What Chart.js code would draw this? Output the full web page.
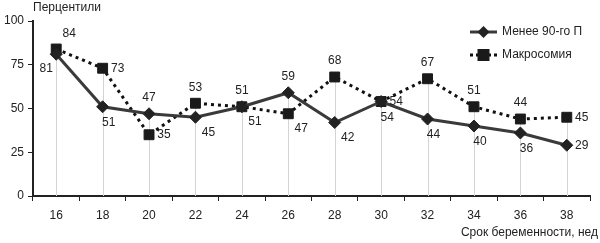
<!DOCTYPE html>
<html>
<head>
<meta charset="utf-8">
<script src="https://cdn.jsdelivr.net/npm/chart.js@4"></script>
<style>
  html, body { margin: 0; padding: 0; background: #fff; }
  #wrap { position: relative; width: 600px; height: 243px; }
</style>
</head>
<body>
<div id="wrap"><canvas id="chart" width="600" height="243"></canvas></div>
<script>
// data
const weeks = ['16', '18', '20', '22', '24', '26', '28', '30', '32', '34', '36', '38'];
const under90 = [81, 51, 47, 45, 51, 59, 42, 54, 44, 40, 36, 29];
const macrosomia = [84, 73, 35, 53, 51, 47, 68, 54, 67, 51, 44, 45];
const yTicks = [0, 25, 50, 75, 100];
const seriesNames = ['Менее 90-го П', 'Макросомия'];

// where each value label sits relative to its point
const under90Pos = ['belowLeft', 'below', 'above', 'belowRight', 'above', 'above', 'belowRight', 'below', 'below', 'below', 'below', 'right'];
const macroPos = ['aboveRight', 'right', 'right', 'above', 'belowRight', 'belowRight', 'above', 'right', 'above', 'above', 'above', 'right'];

const OFFSETS = {
  above: [0, -16],
  below: [6, 16],
  belowRight: [13, 15],
  right: [15, 0],
  aboveRight: [13, -15],
  belowLeft: [-10, 14]
};

const FONT = '"Liberation Sans", Arial, sans-serif';
const TEXT = '#222';

/** light vertical lines from the higher point down to the axis */
const dropLines = {
  id: 'dropLines',
  beforeDatasetsDraw(chart) {
    const ctx = chart.ctx;
    const x = chart.scales.x, y = chart.scales.y;
    ctx.save();
    ctx.strokeStyle = '#d4d4d4';
    ctx.lineWidth = 1;
    weeks.forEach(function (w, i) {
      const top = Math.max(under90[i], macrosomia[i]);
      const px = Math.round(x.getPixelForValue(i)) + 0.5;
      ctx.beginPath();
      ctx.moveTo(px, y.getPixelForValue(top));
      ctx.lineTo(px, y.getPixelForValue(0));
      ctx.stroke();
    });
    ctx.restore();
  }
};

/** value labels, titles and the legend */
const extras = {
  id: 'extras',
  afterDraw(chart) {
    const ctx = chart.ctx;
    ctx.save();
    ctx.fillStyle = TEXT;
    ctx.font = '12px ' + FONT;
    ctx.textAlign = 'center';
    ctx.textBaseline = 'middle';
    [[0, under90Pos], [1, macroPos]].forEach(function (pair) {
      const meta = chart.getDatasetMeta(pair[0]);
      const ds = chart.data.datasets[pair[0]];
      meta.data.forEach(function (pt, i) {
        const off = OFFSETS[pair[1][i]];
        ctx.fillText(String(ds.data[i]), pt.x + off[0], pt.y + off[1]);
      });
    });

    // axis titles
    ctx.textAlign = 'left';
    ctx.fillText('Перцентили', 33, 8);
    ctx.textAlign = 'right';
    ctx.fillText('Срок беременности, нед', 598, 233);

    // legend
    const lx = 470, lx2 = 497;
    let ly = 32;
    ctx.strokeStyle = '#3a3a3a';
    ctx.lineWidth = 3;
    ctx.beginPath(); ctx.moveTo(lx, ly); ctx.lineTo(lx2, ly); ctx.stroke();
    ctx.fillStyle = '#222';
    ctx.beginPath();
    ctx.moveTo((lx + lx2) / 2, ly - 6); ctx.lineTo((lx + lx2) / 2 + 6, ly);
    ctx.lineTo((lx + lx2) / 2, ly + 6); ctx.lineTo((lx + lx2) / 2 - 6, ly);
    ctx.closePath(); ctx.fill();
    ctx.fillStyle = TEXT;
    ctx.textAlign = 'left';
    ctx.fillText(seriesNames[0], 502, ly);

    ly = 55;
    ctx.strokeStyle = '#111';
    ctx.setLineDash([3, 3]);
    ctx.beginPath(); ctx.moveTo(lx, ly); ctx.lineTo(lx2, ly); ctx.stroke();
    ctx.setLineDash([]);
    ctx.fillStyle = '#1a1a1a';
    ctx.fillRect((lx + lx2) / 2 - 6, ly - 6, 12, 12);
    ctx.fillStyle = TEXT;
    ctx.fillText(seriesNames[1], 502, ly);
    ctx.restore();
  }
};

new Chart(document.getElementById('chart'), {
  type: 'line',
  data: {
    labels: weeks,
    datasets: [
      {
        label: seriesNames[0],
        data: under90,
        borderColor: '#3a3a3a',
        borderWidth: 3,
        pointStyle: 'rectRot',
        pointRadius: 6,
        pointBackgroundColor: '#222',
        pointBorderColor: '#222',
        pointBorderWidth: 1,
        tension: 0
      },
      {
        label: seriesNames[1],
        data: macrosomia,
        borderColor: '#111',
        borderWidth: 3,
        borderDash: [3, 4],
        pointStyle: 'rect',
        pointRadius: 7,
        pointBackgroundColor: '#1a1a1a',
        pointBorderColor: '#1a1a1a',
        pointBorderWidth: 1,
        tension: 0
      }
    ]
  },
  options: {
    responsive: false,
    animation: false,
    layout: { padding: { top: 21, right: 10, left: 0, bottom: 0 } },
    plugins: { legend: { display: false }, tooltip: { enabled: false } },
    scales: {
      x: {
        offset: true,
        grid: { offset: true, drawOnChartArea: false, drawTicks: true, tickLength: 5, color: '#222', lineWidth: 1 },
        border: { color: '#222', width: 2 },
        ticks: { color: TEXT, font: { family: FONT, size: 12 }, padding: 7 },
        afterFit: function (s) { s.height = 47; }
      },
      y: {
        min: 0,
        max: 100,
        afterBuildTicks: function (s) { s.ticks = yTicks.map(function (v) { return { value: v }; }); },
        grid: { drawOnChartArea: false, tickLength: 5, color: '#222', lineWidth: 1 },
        border: { color: '#222', width: 2 },
        ticks: { color: TEXT, font: { family: FONT, size: 12 }, padding: 4 },
        afterFit: function (s) { s.width = 33; }
      }
    }
  },
  plugins: [dropLines, extras]
});
</script>
</body>
</html>
